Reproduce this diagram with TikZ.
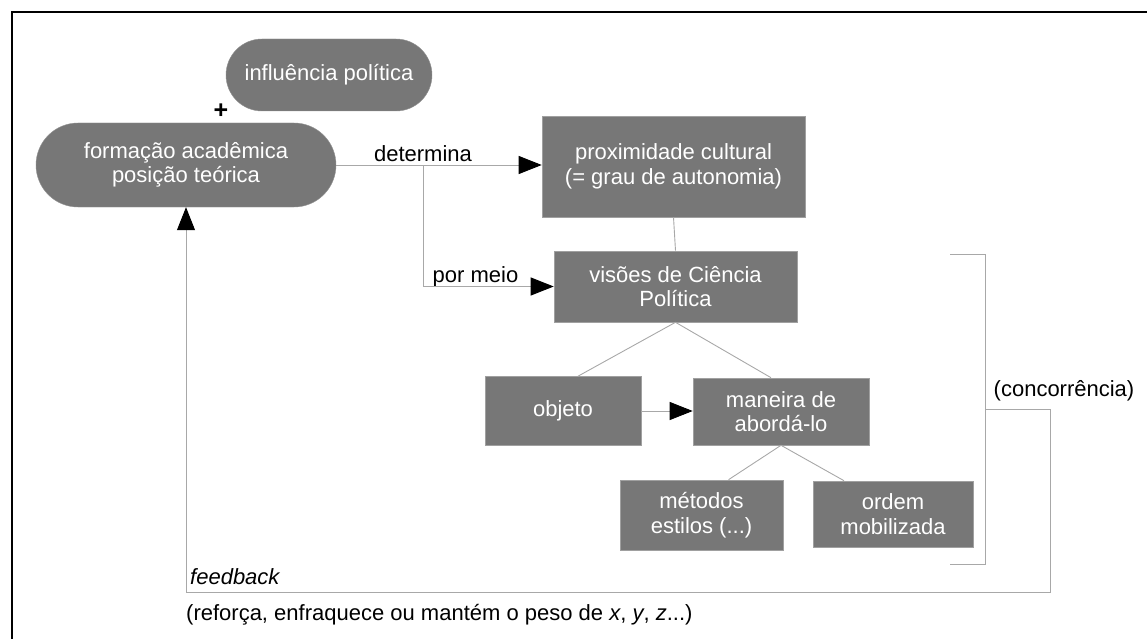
\documentclass[tikz,border=0pt]{standalone}
\usepackage{fontspec}
\setmainfont{Liberation Sans}
\usetikzlibrary{arrows.meta,shapes.misc,calc}
\definecolor{boxgray}{HTML}{777777}
\definecolor{linegray}{HTML}{A8A8A8}
\tikzset{
  base/.style={font=\fontsize{22}{24.5}\selectfont},
  pill/.style={base,rounded rectangle,fill=boxgray,draw=boxgray!80!white,text=white,align=center,inner sep=0pt},
  sbox/.style={base,rectangle,fill=boxgray,draw=boxgray!70!white,line width=0.6pt,text=white,align=center,inner sep=0pt},
  conn/.style={draw=linegray,line width=0.9pt},
  arr/.style={conn,-{Triangle[length=23pt,width=18pt,color=black]}},
  lbl/.style={base,text=black,inner sep=0pt}
}
\begin{document}
\begin{tikzpicture}[x=1pt,y=-1pt]
\useasboundingbox (0,0) rectangle (1147,639);
\draw[line width=2.6pt,black] (12,639) -- (12,12) -- (1147,12);

\node[pill,minimum width=206pt,minimum height=72pt] (infl) at (329,75) {influência política};
\node[pill,minimum width=300pt,minimum height=84pt] (form) at (186,165) {formação acadêmica\\posição teórica};
\node[sbox,minimum width=263pt,minimum height=101pt] (prox) at (673.5,166.5) {proximidade cultural\\(= grau de autonomia)};
\node[sbox,minimum width=243pt,minimum height=71pt] (vis) at (675.5,286.5) {visões de Ciência\\Política};
\node[sbox,minimum width=156pt,minimum height=69pt] (obj) at (563,411) {objeto};
\node[sbox,minimum width=176pt,minimum height=67pt] (man) at (781,411.5) {maneira de\\abordá-lo};
\node[sbox,minimum width=163pt,minimum height=70pt] (met) at (701.5,515) {métodos\\estilos (...)};
\node[sbox,minimum width=160pt,minimum height=66pt] (ord) at (893,514) {ordem\\mobilizada};

\node[lbl,font=\fontsize{25}{25}\selectfont\bfseries] (plus) at (221,111) {+};
\node[lbl,anchor=base] (det) at (423,161) {determina};
\node[lbl,anchor=base] (pm) at (475.5,282) {por meio};
\node[lbl,anchor=base] (conc) at (1064,396) {(concorrência)};
\node[lbl,anchor=base west] (fb) at (190,584) {\itshape feedback};
\node[lbl,anchor=base west] (ref) at (186,620) {(reforça, enfraquece ou mantém o peso de \textit{x}, \textit{y}, \textit{z}...)};

\coordinate (br) at (423,165);
\draw[arr] (form.east |- br) -- (prox.west |- br);
\draw[arr] (br) |- (vis.west);
\draw[conn] (prox.south) -- (vis.north);
\draw[conn] (vis.south) -- ([xshift=15pt]obj.north);
\draw[conn] (vis.south) -- ([xshift=-10pt]man.north);
\draw[arr] (obj.east) -- (man.west |- obj.east);
\draw[conn] (man.south) -- ([xshift=27pt]met.north);
\draw[conn] (man.south) -- ([xshift=-49pt]ord.north);

\coordinate (b1) at (950,254);
\coordinate (b2) at (985,254);
\coordinate (b3) at (985,564);
\coordinate (b4) at (950,564);
\draw[conn] (b1) -- (b2) -- (b3) -- (b4);
\coordinate (fm) at (985,409);
\coordinate (fr) at (1050,409);
\coordinate (fbr) at (1050,592);
\draw[arr] (fm) -- (fr) -- (fbr) -| (form.south);
\end{tikzpicture}
\end{document}
